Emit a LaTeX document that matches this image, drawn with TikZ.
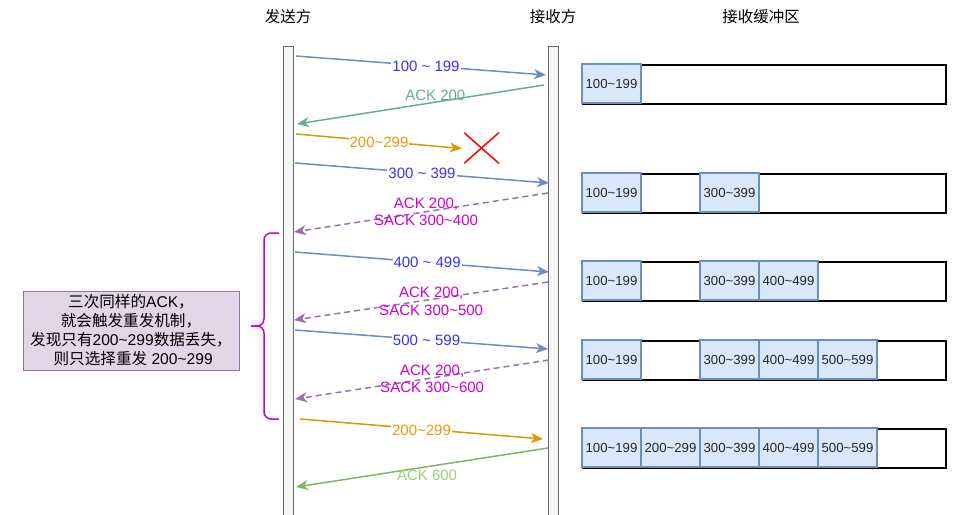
\documentclass[tikz,border=0pt]{standalone}
\usepackage{fontspec}
\setmainfont{Liberation Sans}
\newfontfamily\cjk{Noto Sans CJK SC}
\usetikzlibrary{arrows.meta, positioning, shapes.misc}

\definecolor{seqBlue}{HTML}{6C8EBF}
\definecolor{seqBlueTxt}{HTML}{3333FF}
\definecolor{ackTeal}{HTML}{67AB9F}
\definecolor{reOrange}{HTML}{D79B00}
\definecolor{reOrangeTxt}{HTML}{F0960F}
\definecolor{sackPurple}{HTML}{9673A6}
\definecolor{sackTxt}{HTML}{CC00CC}
\definecolor{okGreen}{HTML}{82B366}
\definecolor{okGreenTxt}{HTML}{97D077}
\definecolor{cellFill}{HTML}{DAE8FC}
\definecolor{noteFill}{HTML}{E1D5E7}

\begin{document}
\begin{tikzpicture}[x=1pt, y=-1pt,
  lifeline/.style={rectangle, draw=black!60, fill=black!4, line width=1pt, minimum width=10pt, minimum height=472pt, inner sep=0pt, anchor=north},
  head/.style={font=\cjk\fontsize{15.5}{18}\selectfont},
  msg/.style={-{Stealth[length=12pt, width=10pt, inset=3.5pt]}, line width=1.5pt},
  lbl/.style={font=\fontsize{15}{17.5}\selectfont, inner sep=1pt, align=center},
  buffer/.style={rectangle, draw=black, line width=2pt, minimum width=363pt, minimum height=39pt, inner sep=0pt},
  cell/.style={rectangle, draw=seqBlue, fill=cellFill, line width=1.6pt, minimum width=59pt, minimum height=39pt, inner sep=0pt, outer sep=0pt, font=\fontsize{13.2}{15}\selectfont, text=black!85},
  note/.style={rectangle, draw=sackPurple, fill=noteFill, line width=1pt, minimum width=216pt, minimum height=79pt, align=center, font=\fontsize{15.6}{19}\selectfont}]
  \useasboundingbox (0,0) rectangle (961,514);

  % headers
  \node[head] (sndhead) at (288,17) {发送方};
  \node[head] (rcvhead) at (553,17) {接收方};
  \node[head] (bufhead) at (761,17) {接收缓冲区};

  % lifelines
  \node[lifeline] (snd) at (288.5,46) {};
  \node[lifeline] (rcv) at (553.5,46) {};

  % message end points
  \coordinate (d1a) at (296,56);   \coordinate (d1b) at (546,75);
  \coordinate (k1a) at (544,85);   \coordinate (k1b) at (297,124);
  \coordinate (r1a) at (296,134);  \coordinate (r1b) at (462,148.5);
  \coordinate (d2a) at (295,163);  \coordinate (d2b) at (549,183);
  \coordinate (k2a) at (548,193);  \coordinate (k2b) at (294,232);
  \coordinate (d3a) at (295,252);  \coordinate (d3b) at (549,272);
  \coordinate (k3a) at (548,282);  \coordinate (k3b) at (294,320);
  \coordinate (d4a) at (295,330);  \coordinate (d4b) at (548,349);
  \coordinate (k4a) at (549,360);  \coordinate (k4b) at (295,399);
  \coordinate (r2a) at (300,419);  \coordinate (r2b) at (543,439);
  \coordinate (k5a) at (548,448);  \coordinate (k5b) at (296,487);

  % lost segment
  \node[cross out, draw=red, line width=1.5pt, minimum width=33pt, minimum height=29pt, inner sep=0pt] (lost) at (481.5,148) {};

  \draw[msg, seqBlue] (d1a) -- node[lbl, fill=white, text=seqBlueTxt, pos=0.52] {100 \textasciitilde{} 199} (d1b);
  \draw[msg, ackTeal] (k1a) -- node[lbl, text=ackTeal, pos=0.44, yshift=7pt] {ACK 200} (k1b);
  \draw[msg, reOrange] (r1a) -- node[lbl, fill=white, text=reOrangeTxt, pos=0.5, yshift=-1pt] {200\textasciitilde299} (r1b);
  \draw[msg, seqBlue] (d2a) -- node[lbl, fill=white, text=seqBlueTxt, pos=0.5] {300 \textasciitilde{} 399} (d2b);
  \draw[msg, sackPurple, dashed, dash pattern=on 6pt off 4pt] (k2a) -- node[lbl, text=sackTxt, pos=0.48] {ACK 200,\\SACK 300\textasciitilde400} (k2b);
  \draw[msg, seqBlue] (d3a) -- node[lbl, fill=white, text=seqBlueTxt, pos=0.52] {400 \textasciitilde{} 499} (d3b);
  \draw[msg, sackPurple, dashed, dash pattern=on 6pt off 4pt] (k3a) -- node[lbl, text=sackTxt, pos=0.46, yshift=-2pt] {ACK 200,\\SACK 300\textasciitilde500} (k3b);
  \draw[msg, seqBlue] (d4a) -- node[lbl, fill=white, text=seqBlueTxt, pos=0.52] {500 \textasciitilde{} 599} (d4b);
  \draw[msg, sackPurple, dashed, dash pattern=on 6pt off 4pt] (k4a) -- node[lbl, text=sackTxt, pos=0.46, yshift=-1pt] {ACK 200,\\SACK 300\textasciitilde600} (k4b);
  \draw[msg, reOrange] (r2a) -- node[lbl, fill=white, text=reOrangeTxt, pos=0.5, yshift=-1pt] {200\textasciitilde299} (r2b);
  \draw[msg, okGreen] (k5a) -- node[lbl, text=okGreenTxt, pos=0.48, yshift=-9pt] {ACK 600} (k5b);

  % three duplicate acks
  \draw[sackTxt, line width=1.5pt, rounded corners=7pt] (279,233) -- (264,233) -- (264,326) -- (251,326);
  \draw[sackTxt, line width=1.5pt, rounded corners=7pt] (251,326) -- (264,326) -- (264,419) -- (279,419);
  \node[note] (why) at (131,330.5) {{\cjk 三次同样的}ACK{\cjk ，}\\
    {\cjk 就会触发重发机制，}\\
    {\cjk 发现只有}200\textasciitilde299{\cjk 数据丢失，}\\
    \ {\cjk 则只选择重发} 200\textasciitilde299};

  % receive buffer
  \node[buffer] (buf1) at (764.5,84.5) {};
  \node[cell, anchor=north west] (b1c1) at (buf1.north west) {100\textasciitilde199};

  \node[buffer] (buf2) at (764.5,193.5) {};
  \node[cell, anchor=north west] (b2c1) at (buf2.north west) {100\textasciitilde199};
  \node[cell, right=59pt of b2c1] (b2c3) {300\textasciitilde399};

  \node[buffer] (buf3) at (764.5,281.5) {};
  \node[cell, anchor=north west] (b3c1) at (buf3.north west) {100\textasciitilde199};
  \node[cell, right=59pt of b3c1] (b3c3) {300\textasciitilde399};
  \node[cell, right=0pt of b3c3] (b3c4) {400\textasciitilde499};

  \node[buffer] (buf4) at (764.5,360.5) {};
  \node[cell, anchor=north west] (b4c1) at (buf4.north west) {100\textasciitilde199};
  \node[cell, right=59pt of b4c1] (b4c3) {300\textasciitilde399};
  \node[cell, right=0pt of b4c3] (b4c4) {400\textasciitilde499};
  \node[cell, right=0pt of b4c4] (b4c5) {500\textasciitilde599};

  \node[buffer] (buf5) at (764.5,448.5) {};
  \node[cell, anchor=north west] (b5c1) at (buf5.north west) {100\textasciitilde199};
  \node[cell, right=0pt of b5c1] (b5c2) {200\textasciitilde299};
  \node[cell, right=0pt of b5c2] (b5c3) {300\textasciitilde399};
  \node[cell, right=0pt of b5c3] (b5c4) {400\textasciitilde499};
  \node[cell, right=0pt of b5c4] (b5c5) {500\textasciitilde599};
\end{tikzpicture}
\end{document}
